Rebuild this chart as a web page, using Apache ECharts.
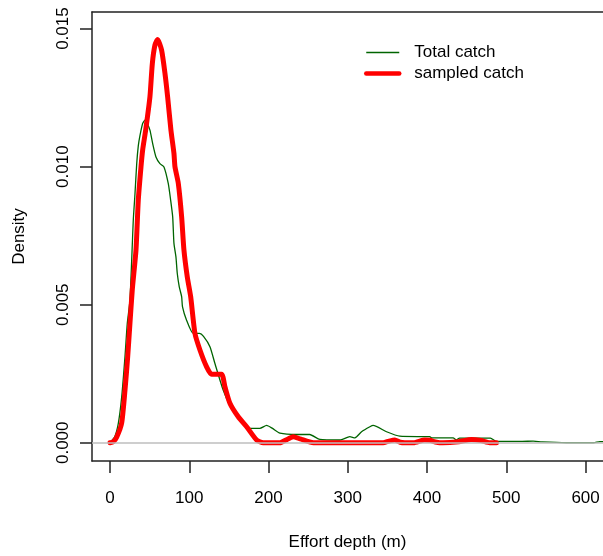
<!DOCTYPE html>
<html>
<head>
<meta charset="utf-8">
<script src="https://cdn.jsdelivr.net/npm/echarts@6/dist/echarts.min.js"></script>
<style>
  html, body { margin: 0; padding: 0; background: #fff; }
  #chart { width: 603px; height: 556px; }
</style>
</head>
<body>
<div id="chart"></div>
<script>
// density curves (x = effort depth in m, y = density)
const depthTotal = [0, 6, 10.5, 14.8, 18.9, 21.8, 25.2, 29.4, 31.5, 33.7, 35.7, 37.8, 41.2, 44.1, 47, 50.4,
  53.8, 58, 63, 68.1, 73.5, 76.5, 79.1, 80.7, 83.2, 84.9, 87.4, 90.4, 91.5, 96.6, 105, 113, 118, 126.1,
  132.4, 142.9, 151.3, 163.9, 174.4, 189, 197.6, 205, 214.4, 235.6, 252, 264.8, 290, 302.6, 309, 317.4,
  327.9, 332, 348.9, 365.7, 403.5, 405.7, 432.9, 437.1, 441, 473, 480, 487.6, 500, 520, 533.9, 545,
  575.8, 610, 618, 625];
const densityTotal = [0, 0.00022, 0.0007, 0.00167, 0.00311, 0.00432, 0.00517, 0.00806, 0.00900, 0.0101,
  0.01075, 0.01112, 0.01156, 0.01168, 0.01156, 0.01132, 0.01084, 0.01035, 0.01011, 0.00999, 0.00939,
  0.00879, 0.00818, 0.00722, 0.00673, 0.00613, 0.00565, 0.00529, 0.00492, 0.00444, 0.00396, 0.00396,
  0.00385, 0.00348, 0.00287, 0.0019, 0.00136, 0.00088, 0.00052, 0.00052, 0.00063, 0.00052, 0.00035,
  0.0003, 0.0003, 0.00012, 0.0001, 0.00022, 0.00018, 0.0004, 0.00058, 0.00063, 0.0004, 0.00024, 0.00022,
  0.00018, 0.00018, 0.0001, 0.00017, 0.00017, 0.00017, 0.00005, 0.00005, 0.00005, 0.00006, 0.00003, 0,
  0, 0.00004, 0.00004];

const depthSampled = [0, 4, 8.4, 14.7, 18.9, 22.3, 25.2, 28.1, 32.8, 35.7, 39.1, 41.2, 45, 50.4, 53.4,
  56.7, 60.1, 65.1, 69.4, 72.7, 76.9, 80.7, 82, 86.2, 90.4, 93.3, 97.5, 101.8, 107.2, 113.5, 121.9,
  128.2, 140.8, 145, 151.3, 161.8, 172.4, 185, 193.3, 214.4, 222, 231.1, 240, 256.7, 344.6, 352, 359.4,
  366, 372, 383, 397, 403.5, 412, 420, 440, 456, 468, 479, 487.6];
const densitySampled = [0, 0.00003, 0.0002, 0.00071, 0.0019, 0.0031, 0.00433, 0.00553, 0.00698, 0.00879,
  0.00999, 0.0106, 0.01132, 0.01253, 0.01373, 0.0144, 0.0146, 0.01422, 0.01337, 0.01253, 0.01132,
  0.01048, 0.00999, 0.00939, 0.00818, 0.00698, 0.00601, 0.00529, 0.00396, 0.00336, 0.00275, 0.00248,
  0.00248, 0.00203, 0.00143, 0.00094, 0.00058, 0.0001, 0, 0, 0.0001, 0.00022, 0.00014, 0, 0, 0.00006,
  0.0001, 0.00002, 0, 0, 0.0001, 0.00009, 0.00002, 0, 0.00004, 0.00012, 0.00008, 0, 0];

const xTicks = [0, 100, 200, 300, 400, 500, 600];
const yTicks = [0, 0.005, 0.010, 0.015];

const FONT = '"Liberation Sans", Arial, sans-serif';
const FONT_SIZE = 17;
const AXIS_COLOR = '#222';
const GREEN = '#006400';
const RED = '#ff0000';

const zip = (xs, ys) => xs.map((x, i) => [x, ys[i]]);

const chart = echarts.init(document.getElementById('chart'));

const option = {
  animation: false,
  backgroundColor: '#fff',
  textStyle: { fontFamily: FONT, color: '#000' },
  grid: { left: 92, top: 12, right: 0, bottom: 95, show: false },
  legend: {
    orient: 'vertical',
    left: 364,
    top: 44,
    padding: 0,
    itemWidth: 33,
    itemHeight: 14,
    itemGap: 4,
    // hide the symbol dot, keep only the line sample
    itemStyle: { opacity: 0 },
    data: [
      { name: 'Total catch', lineStyle: { width: 1.3 } },
      { name: 'sampled catch', lineStyle: { width: 4.5 } }
    ],
    textStyle: { fontFamily: FONT, fontSize: FONT_SIZE, color: '#000', lineHeight: 17, padding: [0, 0, 0, 10] }
  },
  xAxis: [{
    type: 'value',
    min: -22.7,
    max: 622,
    name: 'Effort depth (m)',
    nameLocation: 'middle',
    nameGap: 73,
    nameTextStyle: { fontFamily: FONT, fontSize: FONT_SIZE, color: '#000' },
    splitLine: { show: false },
    axisLine: { show: true, onZero: false, lineStyle: { color: AXIS_COLOR, width: 1.5 } },
    axisTick: { show: true, length: 12, customValues: xTicks, lineStyle: { color: AXIS_COLOR, width: 1.5 } },
    axisLabel: { fontSize: FONT_SIZE, color: '#000', margin: 29, customValues: xTicks }
  }, {
    // top edge of the box
    type: 'value',
    position: 'top',
    min: -22.7,
    max: 622,
    splitLine: { show: false },
    axisLine: { show: true, onZero: false, lineStyle: { color: AXIS_COLOR, width: 1.5 } },
    axisTick: { show: false },
    axisLabel: { show: false }
  }],
  yAxis: {
    type: 'value',
    min: -0.00066,
    max: 0.0156,
    name: 'Density',
    nameLocation: 'middle',
    nameGap: 64,
    nameTextStyle: { fontFamily: FONT, fontSize: FONT_SIZE, color: '#000' },
    splitLine: { show: false },
    axisLine: { show: true, onZero: false, lineStyle: { color: AXIS_COLOR, width: 1.5 } },
    axisTick: { show: true, length: 12, customValues: yTicks, lineStyle: { color: AXIS_COLOR, width: 1.5 } },
    axisLabel: {
      fontSize: FONT_SIZE, color: '#000', margin: 20, rotate: 90,
      customValues: yTicks,
      formatter: v => v.toFixed(3)
    }
  },
  series: [{
    name: 'Total catch',
    type: 'line',
    data: zip(depthTotal, densityTotal),
    symbol: 'none',
    smooth: 0.2,
    z: 2,
    lineStyle: { color: GREEN, width: 1.3 },
    itemStyle: { color: GREEN },
    markLine: {
      silent: true,
      symbol: 'none',
      label: { show: false },
      lineStyle: { color: '#bebebe', type: 'solid', width: 1.5 },
      data: [{ yAxis: 0 }]
    }
  }, {
    name: 'sampled catch',
    type: 'line',
    data: zip(depthSampled, densitySampled),
    symbol: 'none',
    smooth: 0.2,
    z: 3,
    lineStyle: { color: RED, width: 5, cap: 'round', join: 'round' },
    itemStyle: { color: RED }
  }]
};

chart.setOption(option);
window.addEventListener('resize', () => chart.resize());
</script>
</body>
</html>
